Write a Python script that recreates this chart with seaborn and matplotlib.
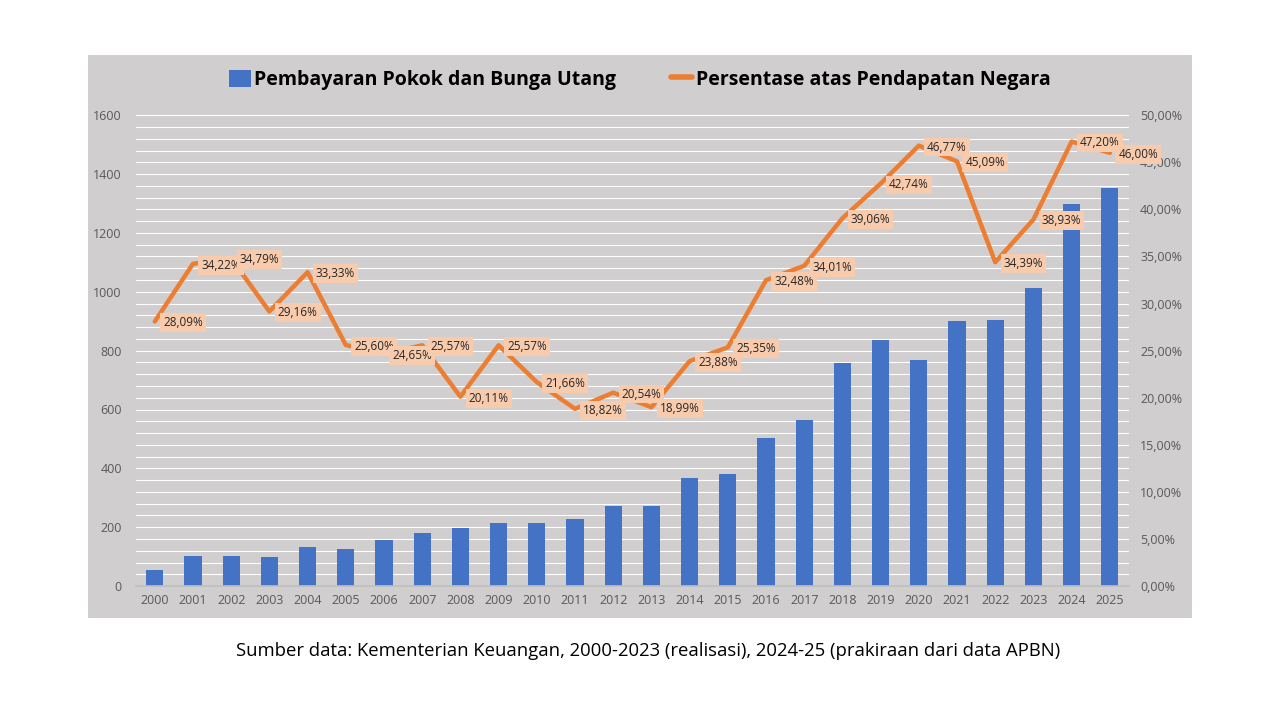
import numpy as np
import pandas as pd
import matplotlib
matplotlib.use("Agg")
import matplotlib.pyplot as plt
from matplotlib.ticker import MultipleLocator, FuncFormatter
from matplotlib.patches import Rectangle, Patch
from matplotlib.lines import Line2D
import seaborn as sns

years = [str(y) for y in range(2000, 2026)]
pembayaran = [54, 102, 102, 99, 132, 126, 156, 180, 197, 214, 214, 228, 272,
              272, 367, 380, 503, 564, 758, 836, 768, 900, 904, 1012, 1298, 1352]
persen = [28.09, 34.22, 34.79, 29.16, 33.33, 25.60, 24.65, 25.57, 20.11, 25.57,
          21.66, 18.82, 20.54, 18.99, 23.88, 25.35, 32.48, 34.01, 39.06, 42.74,
          46.77, 45.09, 34.39, 38.93, 47.20, 46.00]

label_bar = "Pembayaran Pokok dan Bunga Utang"
label_line = "Persentase atas Pendapatan Negara"
caption = "Sumber data: Kementerian Keuangan, 2000-2023 (realisasi), 2024-25 (prakiraan dari data APBN)"

df = pd.DataFrame({"tahun": years, "pembayaran": pembayaran, "persen": persen})
df["pos"] = np.arange(len(df))

blue = "#4472C4"
orange = "#ED7D31"
grey_bg = "#D0CECE"
tick_col = "#595959"

sns.set_theme(style="white")
plt.rcParams["font.family"] = ["Open Sans", "DejaVu Sans"]

fig = plt.figure(figsize=(12.8, 7.2), dpi=100)
fig.patch.set_facecolor("white")
bg = Rectangle((0.069, 0.142), 0.862, 0.782, transform=fig.transFigure,
               facecolor=grey_bg, edgecolor="none", zorder=-10)
fig.add_artist(bg)

ax = fig.add_axes([0.106, 0.186, 0.776, 0.654])
ax.set_facecolor("none")
sns.barplot(data=df, x="tahun", y="pembayaran", color=blue, width=0.45,
            saturation=1, linewidth=0, edgecolor="none", ax=ax, zorder=2)
ax.set_xlim(-0.5, len(df) - 0.5)
ax.set_ylim(0, 1600)
ax.yaxis.set_major_locator(MultipleLocator(200))
ax.yaxis.set_minor_locator(MultipleLocator(40))
ax.grid(axis="y", which="both", color="white", linewidth=0.8, zorder=0)
ax.set_axisbelow(True)
ax.set_xlabel("")
ax.set_ylabel("")
for s in ["top", "right", "left"]:
    ax.spines[s].set_visible(False)
ax.spines["bottom"].set_color("#BFBFBF")
ax.tick_params(axis="y", which="both", length=0, labelsize=9, colors=tick_col, pad=10)
ax.tick_params(axis="x", length=0, labelsize=9, colors=tick_col, pad=6)

ax2 = ax.twinx()
sns.lineplot(data=df, x="pos", y="persen", color=orange, linewidth=3.2, ax=ax2,
             zorder=3)
ax2.set_xlim(-0.5, len(df) - 0.5)
ax2.set_ylim(0, 50)
ax2.yaxis.set_major_locator(MultipleLocator(5))
ax2.yaxis.set_major_formatter(FuncFormatter(lambda v, p: f"{v:.2f}%".replace(".", ",")))
ax2.set_ylabel("")
for s in ["top", "right", "left", "bottom"]:
    ax2.spines[s].set_visible(False)
ax2.tick_params(axis="y", length=0, labelsize=9, colors=tick_col, pad=8)

for x, v in zip(df["pos"], df["persen"]):
    ax2.annotate(f"{v:.2f}%".replace(".", ","), (x, v), xytext=(6, -1),
                 textcoords="offset points", ha="left", va="center", fontsize=8.5,
                 color="#262626", zorder=5,
                 bbox=dict(boxstyle="square,pad=0.25", facecolor="#F8CBAD", edgecolor="none"))

handles = [Patch(facecolor=blue, edgecolor="none"),
           Line2D([0], [0], color=orange, linewidth=4)]
fig.legend(handles, [label_bar, label_line], loc="center", bbox_to_anchor=(0.5, 0.889),
           ncol=2, frameon=False, handlelength=1.1, handleheight=1.0, handletextpad=0.2,
           columnspacing=2.8, labelcolor="black",
           prop={"family": ["Open Sans", "DejaVu Sans"], "weight": "bold", "size": 14})

fig.text(0.506, 0.096, caption, ha="center", va="center", fontsize=13.3, color="black")

fig.savefig("out.png", dpi=100)
